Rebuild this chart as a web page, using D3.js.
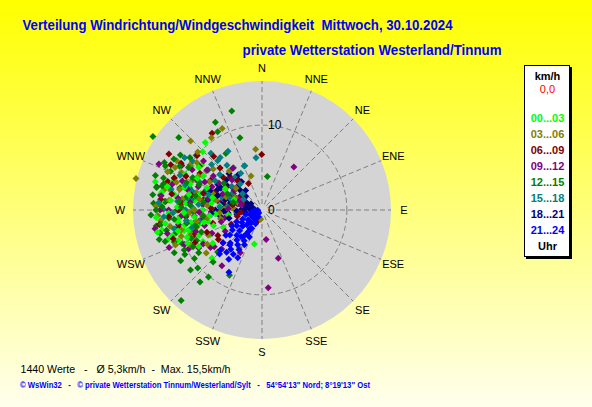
<!DOCTYPE html>
<html><head><meta charset="utf-8">
<script src="https://cdn.jsdelivr.net/npm/d3@7"></script>
<style>html,body{margin:0;padding:0;overflow:hidden;background:#ffffee}svg{display:block}text{white-space:pre}</style>
</head><body>
<script>
// ---------- data ----------
const directions = ["N","NNE","NE","ENE","E","ESE","SE","SSE","S","SSW","SW","WSW","W","WNW","NW","NNW"];
const legendLabels = ["00...03","03...06","06...09","09...12","12...15","15...18","18...21","21...24"];
const groupColors = ["#00ff00","#808000","#800000","#800080","#008000","#008080","#000080","#0000ff"];
const radialTicks = [0, 10];
const calmLabel = "0,0";
const titleText = "Verteilung Windrichtung/Windgeschwindigkeit  Mittwoch, 30.10.2024";
const subtitleText = "private Wetterstation Westerland/Tinnum";
const statsText = "1440 Werte   -   Ø 5,3km/h  -  Max. 15,5km/h";
const footerText = "© WsWin32   -   © private Wetterstation Tinnum/Westerland/Sylt   -   54°54'13\" Nord; 8°19'13\" Ost";

// [direction in degrees, speed km/h]
const h00_03 = [[320,10.4],[314.5,9.8],[284.8,13.0],[258.7,12.0],[252.7,11.6],[192.8,4.1],[226,8.2],[261.4,10.0],[252,8.9],[241.9,7.9],[244.3,6.8],[259,9.3],[264.3,9.8],[254.8,9.0],[257,7.7],[274.8,9.4],[306.7,8.85],[302,9.8],[281,6.6],
 [265,7],[270,8],[275,9],[262,10],[268,11],[280,10.5],[290,9],[285,7.5],[260,8.5],[255,9.5],[250,10.5],[272,6],[278,8],[288,11],[295,10],[265,5.5],[258,6.5],[248,8],[300,8],[275,12],
 [262,4],[268,3],[276,5],[284,6],[292,7],[258,7],[252,6],[246,5],[272,10],[280,12],[266,12.5],[254,11],[264,8],[286,9.5],[296,8.5],[304,9],[270,7],[278,6],
 [256,10.2],[250,9.4],[262,11.5],[268,9.2],[276,10.8],[284,11.5],[258,12.6],[246,9.6],[240,8.6],[236,7],[264,6.2],[282,8.8],[300,5],[290,3.5]];
const h03_06 = [[334,10.7],[314,11.7],[325,10.4],[354,7.2],[284,15.3],[267,12.3],[232.3,8.3],[211,5.2],[188,1.1],[342,4.2],[300,11.6],[281.5,11.8],[254,8.6],
 [262,9],[270,10],[278,9.5],[285,8],[292,9],[298,7],[265,7],[255,8],[275,6.5],[282,11],[288,6],[305,8],[310,7.5],[260,11],[250,9],[268,8.5],[295,10.5],[272,4.5],[245,7],[302,10],
 [266,5],[274,3.5],[282,5.5],[290,4.5],[298,8.5],[258,5],[252,10],[264,12],[276,11],[284,10],[292,12],[306,9.5],[280,7.5],[270,8],[262,6.5],[248,11],[287,3],[300,5],
 [256,9.8],[272,12.5],[288,10.6],[244,9.4],[238,7.6],[260,7.8],[296,11.4],[312,10.2],[310,4],[320,6],[295,3.5]];
const h06_09 = [[327,10.8],[359.7,6.55],[301,12.8],[296.4,12.0],[286.8,11.6],[333,3.5],[204,1.5],[273.5,9.6],[300.6,8.5],[277,6.6],[316,5.4],[226,2.0],
 [270,8],[280,7],[290,6],[300,7],[310,6],[265,9],[275,9.5],[285,10],[295,8.5],[305,9],[260,7.5],[255,6],[250,8.5],[268,5],[278,4.5],[288,5.5],[240,6],[245,4],[298,4],[315,7],
 [272,6],[284,3],[292,4],[302,5],[262,4],[256,3],[266,11],[276,12],[290,11],[300,11],[310,10],[282,8.5],[270,9.8],[258,10],[248,7],[264,2.5],[294,9.8],[318,8.5],
 [252,11],[262,12.2],[280,10.8],[244,8.8],[236,6.2],[286,7.2],[300,3],[310,4],[320,4.5],[290,2.5],[280,3.5]];
const h09_12 = [[36.6,6.3],[172,3.5],[161.3,6.0],[175.4,9.2],[215.7,8.1],[232.4,7.1],[242,9.8],[207,5.65],[294,13.3],[282.5,12.7],[275,11.4],[299,10.8],[239,8.7],
 [265,8],[275,7],[285,9],[295,6.5],[260,10],[270,11],[280,5],[290,8],[300,9.5],[255,7],[250,9],[245,6.5],[268,6],[278,10],[305,7],[288,4],[240,8],[258,4.5],[230,6],[310,9],
 [264,3],[272,4],[282,6.5],[292,5],[302,6],[262,7],[254,5],[246,10],[256,11.5],[266,9.5],[276,8.5],[286,11],[296,7.5],[306,8],[240,5],[234,7.5],[270,12],[290,10],
 [248,11.8],[260,12.8],[278,12],[252,8.2],[226,6.6],[268,7.4],[305,4],[315,5],[295,3],[285,2.5],[325,6]];
const h12_15 = [[343,12.2],[332,11.7],[330.5,10.6],[343,8.9],[304,15.5],[9,4.0],[221.8,14.3],[220.7,11.2],[218.6,10.1],[228,10.2],[238,11.3],[206.5,8.6],[223.3,8.4],[226.6,7.2],[311,13.0],[304,11.6],[294.5,12.5],[293,11.7],[282,12.7],[327.4,7.9],[273.5,12.8],[267.4,13.1],[261.4,12.6],[257.1,12.3],[257.4,10.4],[247,10.2],[242.8,10.3],[234.3,9.8],[288,13.2],[283.5,12.1],[278.4,12.1],[258,11.5],[278.6,8.4],
 [270,10],[265,11],[275,11.5],[280,9],[285,10],[290,11],[260,9],[255,10.5],[250,11],[268,8],[278,7],[295,9],[300,10],[262,6.5],[248,9],[272,9.5],[285,12],[245,8.5],[240,10.5],
 [266,9],[274,8.5],[282,8],[290,9.5],[298,11],[306,10.5],[262,12],[252,12],[244,11.5],[236,9],[230,11],[270,12.5],[278,13],[256,8],[264,7],[292,8],[300,12],
 [272,11.8],[264,10.4],[254,12.6],[276,9.8],[288,12.2],[296,12.8],[250,7.6],[242,9.2],[295,4.5],[305,5.5],[285,3.5]];
const h15_18 = [[353.5,6.2],[318,7.8],[338,5.6],[321.9,6.7],[309.8,10.1],[321.4,7.9],[338.7,5.6],[287,8.9],[270.5,11.6],[259,8.2],[310,10],[286,7.0],[277.5,9.1],[271.4,8.1],[263.3,6.8],[306.7,7.9],
 [280,6],[290,7],[300,8],[310,6.5],[315,7],[285,8.5],[295,9],[305,10],[275,7.5],[270,9],[265,6],[260,7.5],[288,5],[298,5.5],[308,4.5],[278,4],[320,5],[268,10.5],[283,11],[293,10.5],
 [270,7],[278,8.5],[286,6.5],[294,8],[302,6.5],[312,8],[318,9],[326,6],[330,8],[262,9],[256,8.5],[274,5],[282,3.5],[292,3],[300,4],[276,10],[288,9.5],[304,11],
 [266,11.6],[274,12.2],[258,10.6],[310,3],[320,4],[300,2.5],[290,4],[330,5]];
const h18_21 = [[307.6,4.5],[324,4.1],[294.8,3.3],[285,4.5],[290,1.7],[294,5.8],[326,5.0],[300,3.9],[280,5],[275,3.5],[270,2.5],[285,2.8],[295,2],[305,3],[310,5.5],[315,4],[300,6],[290,6.5],[280,6.5],[270,5.5],[265,4],[260,3],[275,1.5],[285,1.2],[300,1.5],[310,2.5],[320,3],[318,5.8],[305,5],[288,4],[278,4.8],[268,4.5],[262,5],[283,3.8],
 [276,2],[284,2],[292,3],[302,2.5],[312,3.5],[322,4.5],[268,3],[262,2],[256,4],[288,5.5],[298,5.5],[266,6]];
const h21_24 = [[252,0.7],[209,0.9],[211,1.6],[209,2.5],[212,3.0],[225.6,2.5],[230,6.0],[222.4,5.6],[213,6.2],[218.5,5.9],[208,8.3],[206.8,4.6],[215,3.8],[213,2.6],[215,1.4],[228,0.6],[213,3.3],[220,4.6],[223.8,5.4],[240,1.0],[235,2.0],[230,3.0],[218,4.0],[210,4.2],[205,3.5],[225,4.2],[232,4.8],[238,3.5],[245,2.5],[250,1.5],[260,1.2],[265,0.5],[220,2.0],[205,1.8],[215,5.0],[227,3.6],[210,5.4],[235,5.2],[242,4.0],
 [214,7],[220,6.5],[226,6.8],[236,4.2],[245,3.3],[255,2],[270,0.8],[218,1.2],[234,1.4],[230,0.5],[207,6.3],[224,7.2],[248,1],[238,2.8]];
const groups = [h00_03,h03_06,h06_09,h09_12,h12_15,h15_18,h18_21,h21_24];

// ---------- layout ----------
const W = 592, H = 407, cx = 262, cy = 210, R = 129;
const font = "'Liberation Sans', Arial, sans-serif";
const svg = d3.select("body").append("svg").attr("width", W).attr("height", H);
const defs = svg.append("defs");
const grad = defs.append("linearGradient").attr("id","bg").attr("x1",0).attr("y1",0).attr("x2",0).attr("y2",1);
grad.append("stop").attr("offset","0%").attr("stop-color","#ffff00");
grad.append("stop").attr("offset","100%").attr("stop-color","#ffffee");
svg.append("rect").attr("width",W).attr("height",H).attr("fill","url(#bg)");

const r = d3.scaleLinear().domain([0, 15.2]).range([0, R]);
const ang = d3.scaleLinear().domain([0, 360]).range([0, 2*Math.PI]);

const g = svg.append("g").attr("transform", `translate(${cx},${cy})`);
g.append("circle").attr("r", R).attr("fill", "#d4d4d4");

// spokes
g.selectAll("line.spoke").data(directions).join("line")
  .attr("class","spoke")
  .attr("x1", (d,i) => d3.pointRadial(ang(i*22.5), 6)[0])
  .attr("y1", (d,i) => d3.pointRadial(ang(i*22.5), 6)[1])
  .attr("x2", (d,i) => d3.pointRadial(ang(i*22.5), R)[0])
  .attr("y2", (d,i) => d3.pointRadial(ang(i*22.5), R)[1])
  .attr("stroke","#7f7f7f").attr("stroke-dasharray","5,3").attr("stroke-width",1);

// rings
g.selectAll("circle.ring").data(radialTicks.filter(d => d > 0)).join("circle")
  .attr("class","ring").attr("r", d => r(d)).attr("fill","none")
  .attr("stroke","#7f7f7f").attr("stroke-dasharray","5,3");

// direction labels
g.selectAll("text.dir").data(directions).join("text")
  .attr("class","dir")
  .attr("x", (d,i) => d3.pointRadial(ang(i*22.5), 142)[0])
  .attr("y", (d,i) => d3.pointRadial(ang(i*22.5), 142)[1] + 4)
  .attr("text-anchor","middle").attr("font-family",font).attr("font-size",11)
  .attr("fill","#000").text(d => d);

// points: groups 0-6 interleaved (mixed cloud), evening group on top
const mixed = [];
const maxLen = d3.max(groups.slice(0,7), a => a.length);
for (let k = 0; k < maxLen; k++) {
  for (let gi = 0; gi < 7; gi++) if (k < groups[gi].length) mixed.push({p: groups[gi][k], gi});
}
groups[7].forEach(p => mixed.push({p, gi: 7}));
const diamond = "M0,-3.5L3.5,0L0,3.5L-3.5,0Z";
g.append("g").selectAll("path").data(mixed).join("path")
  .attr("d", diamond)
  .attr("transform", d => { const p = d3.pointRadial(ang(d.p[0]), r(d.p[1])); return `translate(${p[0]},${p[1]})`; })
  .attr("fill", d => groupColors[d.gi]);

// radial tick labels
g.selectAll("text.tick").data(radialTicks).join("text")
  .attr("class","tick")
  .attr("x", 6).attr("y", d => -r(d) + 4)
  .attr("font-family",font).attr("font-size",12).attr("fill","#000")
  .text(d => d);

// titles
svg.append("text").attr("x",22.5).attr("y",30).attr("font-family",font).attr("font-weight","bold")
  .attr("font-size",14).attr("fill","#0000ff").attr("textLength",430).attr("lengthAdjust","spacingAndGlyphs").text(titleText);
svg.append("text").attr("x",242.5).attr("y",54.5).attr("font-family",font).attr("font-weight","bold")
  .attr("font-size",14).attr("fill","#0000ff").attr("textLength",259).attr("lengthAdjust","spacingAndGlyphs").text(subtitleText);

// legend
const lg = svg.append("g");
lg.append("rect").attr("x",526).attr("y",67).attr("width",46).attr("height",192).attr("fill","#000");
lg.append("rect").attr("x",524.5).attr("y",65.5).attr("width",45).attr("height",191).attr("fill","#fff").attr("stroke","#000");
const lx = 547.5;
lg.append("text").attr("x",lx).attr("y",79.5).attr("text-anchor","middle").attr("font-family",font).attr("font-weight","bold").attr("font-size",11).attr("fill","#000").text("km/h");
lg.append("text").attr("x",lx).attr("y",93).attr("text-anchor","middle").attr("font-family",font).attr("font-size",11).attr("fill","#ff0000").text(calmLabel);
lg.selectAll("text.lab").data(legendLabels).join("text").attr("class","lab")
  .attr("x",lx).attr("y",(d,i) => 121.5 + i*16).attr("text-anchor","middle")
  .attr("font-family",font).attr("font-weight","bold").attr("font-size",11)
  .attr("fill",(d,i) => groupColors[i]).text(d => d);
lg.append("text").attr("x",lx).attr("y",250).attr("text-anchor","middle").attr("font-family",font).attr("font-weight","bold").attr("font-size",11).attr("fill","#000").text("Uhr");

// footer
svg.append("text").attr("x",20.5).attr("y",373).attr("font-family",font).attr("font-size",11.5)
  .attr("fill","#000").attr("textLength",210).attr("lengthAdjust","spacingAndGlyphs").text(statsText);
svg.append("text").attr("x",20).attr("y",388).attr("font-family",font).attr("font-weight","bold").attr("font-size",8.5)
  .attr("fill","#0000ff").attr("textLength",350).attr("lengthAdjust","spacingAndGlyphs").text(footerText);
</script>
</body></html>
